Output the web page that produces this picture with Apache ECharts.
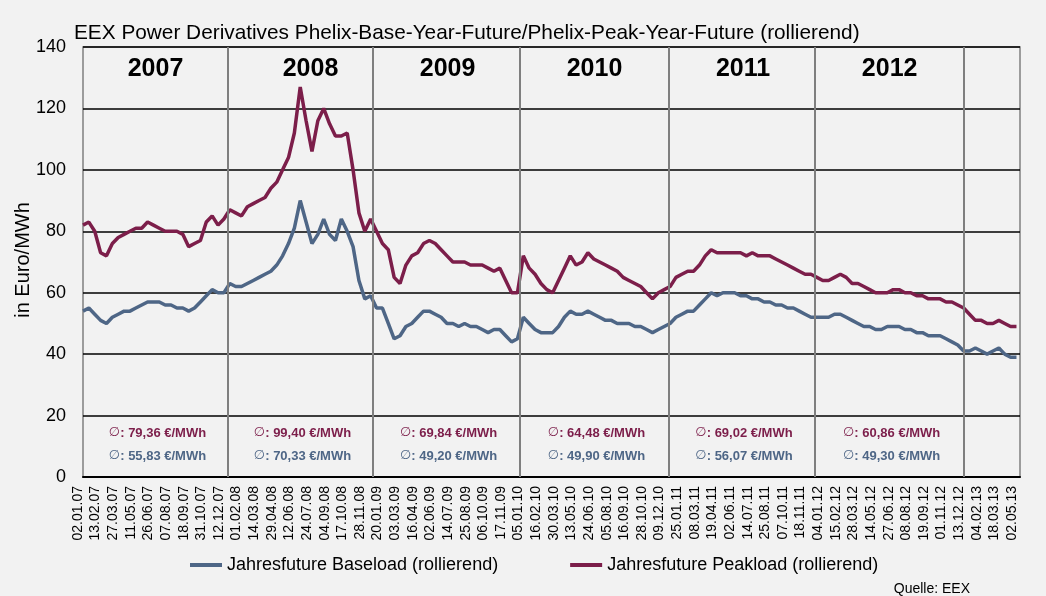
<!DOCTYPE html>
<html><head><meta charset="utf-8">
<script src="https://cdn.jsdelivr.net/npm/echarts@6/dist/echarts.min.js"></script>
<style>html,body{margin:0;padding:0;background:#f2f2f2}#c{width:1046px;height:596px}</style>
</head><body><div id="c"></div>
<script>
// x-axis tick labels (every 30 trading days)
const dateLabels = ['02.01.07','13.02.07','27.03.07','11.05.07','26.06.07','07.08.07','18.09.07','31.10.07','12.12.07',
 '01.02.08','14.03.08','29.04.08','12.06.08','24.07.08','04.09.08','17.10.08','28.11.08',
 '20.01.09','03.03.09','16.04.09','02.06.09','14.07.09','25.08.09','06.10.09','17.11.09',
 '05.01.10','16.02.10','30.03.10','13.05.10','24.06.10','05.08.10','16.09.10','28.10.10','09.12.10',
 '25.01.11','08.03.11','19.04.11','02.06.11','14.07.11','25.08.11','07.10.11','18.11.11',
 '04.01.12','15.02.12','28.03.12','14.05.12','27.06.12','08.08.12','19.09.12','01.11.12','13.12.12',
 '04.02.13','18.03.13','02.05.13'];
// values sampled every 10 trading days (3 samples per label step)
const peakload = [82,83,80,73,72,76,78,79,80,81,81,83,82,81,80,80,80,79,75,76,77,83,85,82,84,
 87,86,85,88,89,90,91,94,96,100,104,112,127,116,106,116,120,115,111,111,112,100,86,80,84,
 80,76,74,65,63,69,72,73,76,77,76,74,72,70,70,70,69,69,69,68,67,68,64,60,60,
 72,68,66,63,61,60,64,68,72,69,70,73,71,70,69,68,67,65,64,63,62,60,58,60,61,
 62,65,66,67,67,69,72,74,73,73,73,73,73,72,73,72,72,72,71,70,69,68,67,66,66,
 65,64,64,65,66,65,63,63,62,61,60,60,60,61,61,60,60,59,59,58,58,58,57,57,56,
 55,53,51,51,50,50,51,50,49,49];
const baseload = [54,55,53,51,50,52,53,54,54,55,56,57,57,57,56,56,55,55,54,55,57,59,61,60,60,
 63,62,62,63,64,65,66,67,69,72,76,81,90,83,76,79,84,79,77,84,80,75,64,58,59,
 55,55,50,45,46,49,50,52,54,54,53,52,50,50,49,50,49,49,48,47,48,48,46,44,45,
 52,50,48,47,47,47,49,52,54,53,53,54,53,52,51,51,50,50,50,49,49,48,47,48,49,
 50,52,53,54,54,56,58,60,59,60,60,60,59,59,58,58,57,57,56,56,55,55,54,53,52,
 52,52,52,53,53,52,51,50,49,49,48,48,49,49,49,48,48,47,47,46,46,46,45,44,43,
 41,41,42,41,40,41,42,40,39,39];
const years = ['2007','2008','2009','2010','2011','2012'];
// first sample index of each calendar year (in 10-trading-day steps), last = end of axis
const yearStarts = [0, 24.7, 49.4, 74.45, 99.8, 124.7, 150.1];
const axisEnd = 159.6;
const peakAvg = ['79,36','99,40','69,84','64,48','69,02','60,86'];
const baseAvg = ['55,83','70,33','49,20','49,90','56,07','49,30'];

const FONT = '"Liberation Sans", Arial, sans-serif';
const peakColor = '#7c1e4a';
const baseColor = '#4e6686';
const yearLabelShift = [0,10,1,0,1,0];
const chart = echarts.init(document.getElementById('c'), null, {renderer:'canvas'});
const pairs = arr => arr.map((v,i)=>[i,v]);

const option = {
  backgroundColor:'#f2f2f2',
  animation:false,
  grid:[
    {left:83, right:26, top:47, bottom:119, show:true, borderColor:'#808080', borderWidth:1.5, backgroundColor:'transparent'},
    {left:78, right:34, top:47, bottom:119}
  ],
  xAxis:[
    {gridIndex:0, type:'value', min:0, max:axisEnd,
     axisLine:{show:true, onZero:false, lineStyle:{color:'#000', width:2}},
     axisTick:{show:false}, axisLabel:{show:false}, splitLine:{show:false}},
    {gridIndex:1, type:'value', min:0, max:dateLabels.length-1, interval:1,
     axisLine:{show:false}, axisTick:{show:false}, splitLine:{show:false},
     axisLabel:{rotate:90, margin:9, fontSize:14, color:'#000', fontFamily:FONT,
       showMinLabel:true, showMaxLabel:true,
       formatter: v => dateLabels[Math.round(v)] || ''}}
  ],
  yAxis:[
    {gridIndex:0, type:'value', min:0, max:140, interval:20,
     axisLine:{show:false}, axisTick:{show:false},
     axisLabel:{fontSize:18, color:'#000', margin:17, fontFamily:FONT},
     splitLine:{show:true, lineStyle:{color:'#000', width:1.5}}},
    {gridIndex:1, type:'value', show:false, min:0, max:1}
  ],
  legend:{
    left:190, top:556, padding:0, itemWidth:32, itemHeight:4, itemGap:72,
    icon:'rect',
    textStyle:{fontSize:18, color:'#000', fontFamily:FONT},
    data:['Jahresfuture Baseload (rollierend)','Jahresfuture Peakload (rollierend)']
  },
  series:[
    {name:'Jahresfuture Baseload (rollierend)', type:'line', xAxisIndex:0, yAxisIndex:0,
     data:pairs(baseload), showSymbol:false, symbol:'none',
     lineStyle:{color:baseColor, width:3.5}, itemStyle:{color:baseColor}, z:3,
     markLine:{silent:true, symbol:['none','none'], label:{show:false},
       lineStyle:{color:'#7f7f7f', width:2, type:'solid'},
       data: yearStarts.slice(1).map(x=>({xAxis:x}))}},
    {name:'Jahresfuture Peakload (rollierend)', type:'line', xAxisIndex:0, yAxisIndex:0,
     data:pairs(peakload), showSymbol:false, symbol:'none',
     lineStyle:{color:peakColor, width:3.5}, itemStyle:{color:peakColor}, z:3}
  ]
};
chart.setOption(option);

const px = (x,y) => chart.convertToPixel({xAxisIndex:0, yAxisIndex:0}, [x,y]);
const g = [];
g.push({type:'text', x:74, y:33, style:{text:'EEX Power Derivatives Phelix-Base-Year-Future/Phelix-Peak-Year-Future (rollierend)',
  fontSize:20.8, fontFamily:FONT, fill:'#000', verticalAlign:'middle'}});
g.push({type:'text', x:23, y:260, rotation:Math.PI/2, style:{text:'in Euro/MWh', fontSize:20, fontFamily:FONT, fill:'#000', align:'center', verticalAlign:'middle'}});
g.push({type:'text', x:970, y:589, style:{text:'Quelle: EEX', fontSize:14, fontFamily:FONT, fill:'#000', align:'right', verticalAlign:'middle'}});
const topY = px(0,140)[1];
for (let k=0;k<years.length;k++){
  const cx = (px(yearStarts[k],0)[0] + px(yearStarts[k+1],0)[0]) / 2;
  g.push({type:'text', x:cx+yearLabelShift[k], y:topY+22, style:{text:years[k], fontSize:25, fontWeight:'bold', fontFamily:FONT, fill:'#000', align:'center', verticalAlign:'middle'}});
  g.push({type:'text', x:cx+2, y:433, style:{text:'{s|\u2205}{b|: '+peakAvg[k]+' \u20ac/MWh}', align:'center', verticalAlign:'middle',
    rich:{s:{fontSize:13, fontFamily:'"DejaVu Sans", sans-serif', fill:peakColor, fontWeight:'normal'},
          b:{fontSize:13, fontFamily:FONT, fill:peakColor, fontWeight:'bold'}}}});
  g.push({type:'text', x:cx+2, y:456, style:{text:'{s|\u2205}{b|: '+baseAvg[k]+' \u20ac/MWh}', align:'center', verticalAlign:'middle',
    rich:{s:{fontSize:13, fontFamily:'"DejaVu Sans", sans-serif', fill:baseColor, fontWeight:'normal'},
          b:{fontSize:13, fontFamily:FONT, fill:baseColor, fontWeight:'bold'}}}});
}
chart.setOption({graphic:g});
</script></body></html>
